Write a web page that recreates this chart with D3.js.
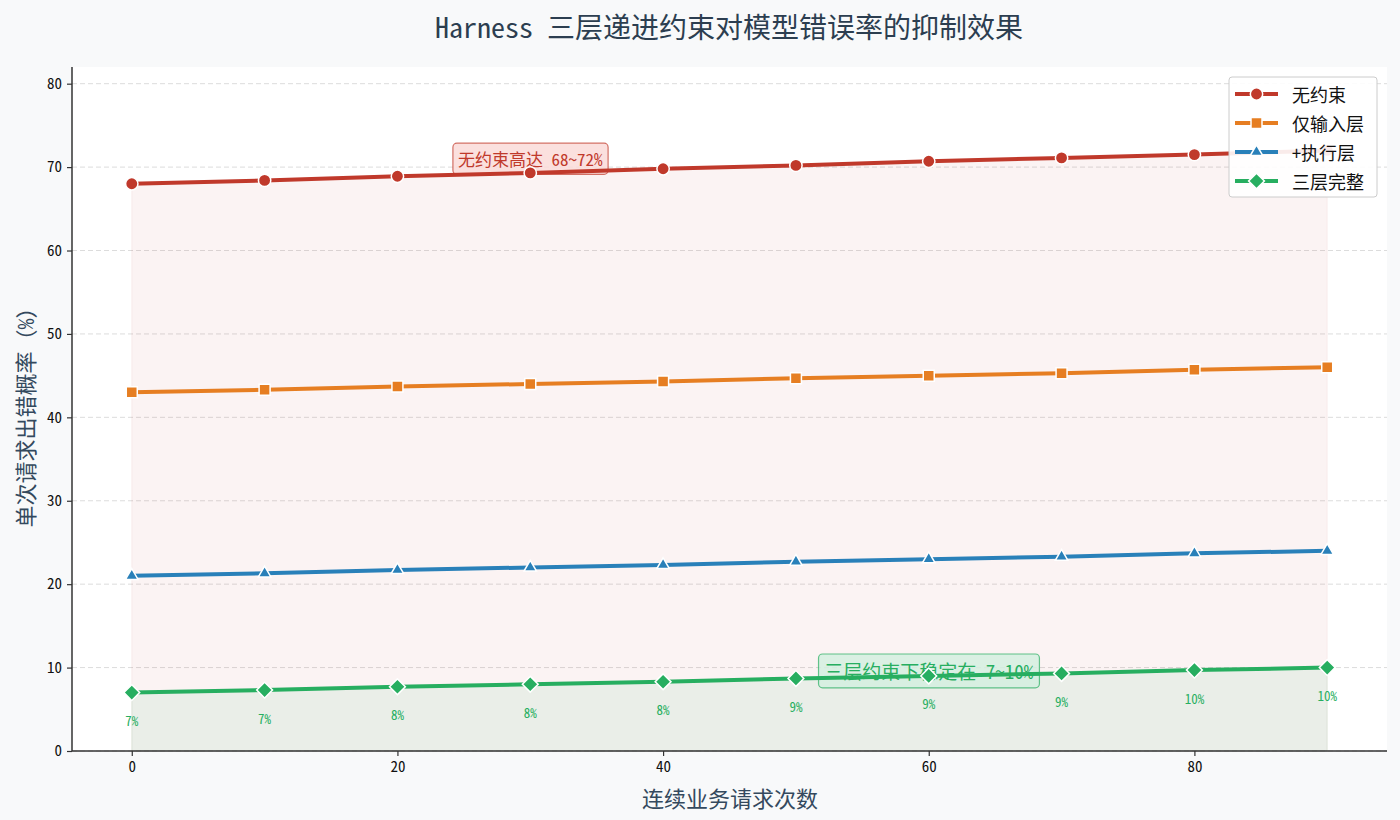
<!DOCTYPE html>
<html>
<head>
<meta charset="utf-8">
<script src="https://cdn.jsdelivr.net/npm/d3@7"></script>
<style>
  body { margin: 0; background: #f8f9fa; }
  svg { display: block; }
</style>
</head>
<body>
<div id="chart"></div>
<script>
// ========= Data
const requests = [0, 10, 20, 30, 40, 50, 60, 70, 80, 90];
const noConstraint = [68, 68.4, 68.9, 69.3, 69.8, 70.2, 70.7, 71.1, 71.5, 72];
const inputOnly = [43, 43.3, 43.7, 44, 44.3, 44.7, 45, 45.3, 45.7, 46];
const withExec = [21, 21.3, 21.7, 22, 22.3, 22.7, 23, 23.3, 23.7, 24];
const fullThree = [7, 7.3, 7.7, 8, 8.3, 8.7, 9, 9.3, 9.7, 10];
const fullLabels = ["7%", "7%", "8%", "8%", "8%", "9%", "9%", "9%", "10%", "10%"];
const seriesNames = ["无约束", "仅输入层", "+执行层", "三层完整"];
const xTicks = [0, 20, 40, 60, 80];
const yTicks = [0, 10, 20, 30, 40, 50, 60, 70, 80];

const width = 1400;
const height = 820;
const margin = { top: 67, right: 13, bottom: 69, left: 72 };

const font = "'Noto Sans Mono CJK SC', 'DejaVu Sans Mono', 'Noto Sans CJK SC', monospace";

const colors = ["#c0392b", "#e67e22", "#2980b9", "#27ae60"];
const symbols = [
    { type: d3.symbolCircle, size: 120, rotate: 0 },
    { type: d3.symbolSquare, size: 121, rotate: 0 },
    { type: d3.symbolTriangle, size: 68, rotate: 0 },
    { type: d3.symbolSquare, size: 125, rotate: 45 }
];

const series = [noConstraint, inputOnly, withExec, fullThree].map((vals, i) => ({
    name: seriesNames[i],
    color: colors[i],
    symbol: symbols[i],
    values: requests.map((r, j) => ({ x: r, y: vals[j] }))
}));

const svg = d3.select("#chart").append("svg")
    .attr("width", width)
    .attr("height", height);

svg.append("rect")
    .attr("width", width)
    .attr("height", height)
    .attr("fill", "#f8f9fa");

const xScale = d3.scaleLinear()
    .domain([-4.5, 94.5])
    .range([margin.left, width - margin.right]);

const yScale = d3.scaleLinear()
    .domain([0, 82])
    .range([height - margin.bottom, margin.top]);

// plot background
svg.append("rect")
    .attr("x", margin.left)
    .attr("y", margin.top)
    .attr("width", width - margin.left - margin.right)
    .attr("height", height - margin.top - margin.bottom)
    .attr("fill", "white");

// grid
svg.append("g")
    .selectAll("line")
    .data(yTicks)
    .enter()
    .append("line")
    .attr("x1", margin.left)
    .attr("x2", width - margin.right)
    .attr("y1", d => yScale(d))
    .attr("y2", d => yScale(d))
    .attr("stroke", "#dcdcdc")
    .attr("stroke-width", 1)
    .attr("stroke-dasharray", "5,3");

// ========= Fills
const area = d3.area()
    .x(d => xScale(d.x))
    .y0(yScale(0))
    .y1(d => yScale(d.y));

svg.append("path")
    .datum(series[0].values)
    .attr("d", area)
    .attr("fill", colors[0])
    .attr("fill-opacity", 0.06)
    .attr("stroke", colors[0])
    .attr("stroke-opacity", 0.06);

svg.append("path")
    .datum(series[3].values)
    .attr("d", area)
    .attr("fill", colors[3])
    .attr("fill-opacity", 0.08)
    .attr("stroke", colors[3])
    .attr("stroke-opacity", 0.08);

// ========= Axes
const xAxis = d3.axisBottom(xScale).tickValues(xTicks).tickSize(5).tickPadding(5);
const yAxis = d3.axisLeft(yScale).tickValues(yTicks).tickSize(5).tickPadding(5);

const gx = svg.append("g")
    .attr("transform", `translate(0, ${yScale(0)})`)
    .call(xAxis);

const gy = svg.append("g")
    .attr("transform", `translate(${margin.left}, 0)`)
    .call(yAxis);

[gx, gy].forEach(g => {
    g.select(".domain").attr("stroke", "#333").attr("stroke-width", 1.5);
    g.selectAll(".tick line").attr("stroke", "#333").attr("stroke-width", 1.2);
    g.selectAll(".tick text")
        .style("font-family", font)
        .style("font-size", "15px")
        .attr("fill", "#111");
});
gx.select(".domain").attr("d", `M${margin.left},0H${width - margin.right}`);
gy.select(".domain").attr("d", `M0,${yScale(0)}V${margin.top}`);

// ========= Annotations (behind lines)
function annotate(text, x, y, color, bg, fontSize) {
    const g = svg.append("g");
    const t = g.append("text")
        .attr("x", xScale(x))
        .attr("y", yScale(y))
        .attr("text-anchor", "middle")
        .attr("dominant-baseline", "central")
        .style("font-family", font)
        .style("font-size", fontSize + "px")
        .attr("fill", color)
        .text(text);
    const bb = t.node().getBBox();
    const pad = fontSize * 0.3;
    g.insert("rect", "text")
        .attr("x", bb.x - pad)
        .attr("y", bb.y - pad * 0.6)
        .attr("width", bb.width + pad * 2)
        .attr("height", bb.height + pad * 1.2)
        .attr("rx", 4)
        .attr("fill", bg)
        .attr("stroke", color)
        .attr("stroke-opacity", 0.7)
        .attr("stroke-width", 1.2);
}

annotate("无约束高达 68~72%", 30, 71.0, colors[0], "rgba(250,219,216,0.85)", 17);
annotate("三层约束下稳定在 7~10%", 60, 9.6, colors[3], "rgba(212,239,223,0.85)", 19);

// ========= Lines
const line = d3.line()
    .x(d => xScale(d.x))
    .y(d => yScale(d.y));

series.forEach(s => {
    svg.append("path")
        .datum(s.values)
        .attr("d", line)
        .attr("fill", "none")
        .attr("stroke", s.color)
        .attr("stroke-width", 4);

    svg.append("g")
        .selectAll("path")
        .data(s.values)
        .enter()
        .append("path")
        .attr("d", d3.symbol().type(s.symbol.type).size(s.symbol.size))
        .attr("transform", d => `translate(${xScale(d.x)}, ${yScale(d.y)}) rotate(${s.symbol.rotate})`)
        .attr("fill", s.color)
        .attr("stroke", "white")
        .attr("stroke-width", 1.5);
});

// value labels under green series
svg.append("g")
    .selectAll("text")
    .data(series[3].values)
    .enter()
    .append("text")
    .attr("x", d => xScale(d.x))
    .attr("y", d => yScale(d.y) + 28)
    .attr("text-anchor", "middle")
    .attr("dominant-baseline", "central")
    .style("font-family", font)
    .style("font-size", "13px")
    .attr("fill", colors[3])
    .text((d, i) => fullLabels[i]);

// ========= Legend
const legend = svg.append("g")
    .attr("transform", "translate(1229, 77)");

legend.append("rect")
    .attr("width", 148)
    .attr("height", 120)
    .attr("rx", 3)
    .attr("fill", "white")
    .attr("fill-opacity", 0.9)
    .attr("stroke", "#ccc")
    .attr("stroke-width", 1);

series.forEach((s, i) => {
    const row = legend.append("g")
        .attr("transform", `translate(0, ${17 + i * 29})`);
    row.append("line")
        .attr("x1", 6)
        .attr("x2", 49)
        .attr("stroke", s.color)
        .attr("stroke-width", 4);
    row.append("path")
        .attr("d", d3.symbol().type(s.symbol.type).size(s.symbol.size))
        .attr("transform", `translate(27.5, 0) rotate(${s.symbol.rotate})`)
        .attr("fill", s.color)
        .attr("stroke", "white")
        .attr("stroke-width", 1.5);
    row.append("text")
        .attr("x", 63)
        .attr("dominant-baseline", "central")
        .style("font-family", font)
        .style("font-size", "18px")
        .attr("fill", "#111")
        .text(s.name);
});

// ========= Titles
svg.append("text")
    .attr("x", 729)
    .attr("y", 26)
    .attr("text-anchor", "middle")
    .attr("dominant-baseline", "central")
    .style("font-family", font)
    .style("font-size", "28px")
    .attr("fill", "#2c3e50")
    .text("Harness 三层递进约束对模型错误率的抑制效果");

svg.append("text")
    .attr("x", 730)
    .attr("y", 797)
    .attr("text-anchor", "middle")
    .attr("dominant-baseline", "central")
    .style("font-family", font)
    .style("font-size", "22px")
    .attr("fill", "#34495e")
    .text("连续业务请求次数");

svg.append("text")
    .attr("transform", "translate(24, 412) rotate(-90)")
    .attr("text-anchor", "middle")
    .attr("dominant-baseline", "central")
    .style("font-family", font)
    .style("font-size", "22px")
    .attr("fill", "#34495e")
    .text("单次请求出错概率（%）");
</script>
</body>
</html>
